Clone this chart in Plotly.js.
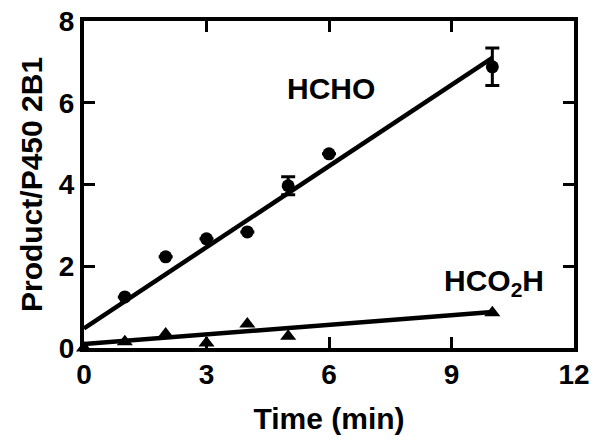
<!DOCTYPE html>
<html>
<head>
<meta charset="utf-8">
<script src="https://cdn.plot.ly/plotly-3.0.1.min.js"></script>
<style>
  html, body { margin: 0; padding: 0; background: #fff; }
  #chart { width: 601px; height: 448px; }
</style>
</head>
<body>
<div id="chart"></div>
<script>
// time points (min)
var hchoTime = [1, 2, 3, 4, 5, 6, 10];
var hchoValues = [1.25, 2.23, 2.67, 2.84, 3.97, 4.75, 6.88];
var hchoErrors = [0, 0, 0, 0, 0.22, 0, 0.46];

var formicTime = [0, 1, 2, 3, 4, 5, 10];
var formicValues = [0, 0.15, 0.34, 0.12, 0.59, 0.29, 0.86];

// linear fits
var fitTime = [0, 10];
var hchoFit = [0.48, 7.1];
var formicFit = [0.1, 0.88];

var xTicks = [0, 3, 6, 9, 12];
var yTicks = [0, 2, 4, 6, 8];

var fontFamily = '"Liberation Sans", Arial, sans-serif';

var hchoFitTrace = {
  x: fitTime,
  y: hchoFit,
  mode: 'lines',
  type: 'scatter',
  line: {color: '#000', width: 4.5},
  cliponaxis: false,
  hoverinfo: 'skip'
};

var formicFitTrace = {
  x: fitTime,
  y: formicFit,
  mode: 'lines',
  type: 'scatter',
  line: {color: '#000', width: 4.5},
  cliponaxis: false,
  hoverinfo: 'skip'
};

var hchoTrace = {
  x: hchoTime,
  y: hchoValues,
  mode: 'markers',
  type: 'scatter',
  name: 'HCHO',
  marker: {symbol: 'circle', size: 13, color: '#000'},
  error_y: {type: 'data', array: hchoErrors, visible: true, color: '#000', thickness: 3, width: 7},
  cliponaxis: false
};

var formicTrace = {
  x: formicTime,
  y: formicValues,
  mode: 'markers',
  type: 'scatter',
  name: 'HCO2H',
  marker: {symbol: 'triangle-up', size: 14, color: '#000'},
  cliponaxis: false
};

var axisStyle = {
  showline: true,
  linecolor: '#000',
  linewidth: 4,
  mirror: 'ticks',
  ticks: 'inside',
  ticklen: 11,
  tickwidth: 3,
  tickcolor: '#000',
  showgrid: false,
  zeroline: false,
  tickfont: {family: fontFamily, size: 28, color: '#000'}
};

function boldLabels(vals) {
  return vals.map(function(v) { return '<b>' + v + '</b>'; });
}

var layout = {
  width: 601,
  height: 448,
  margin: {l: 84, r: 27, t: 21, b: 100},
  paper_bgcolor: '#fff',
  plot_bgcolor: '#fff',
  showlegend: false,
  font: {family: fontFamily, color: '#000'},
  xaxis: Object.assign({}, axisStyle, {
    range: [0, 12],
    tickvals: xTicks,
    ticktext: boldLabels(xTicks),
    ticklabelstandoff: -2,
    title: {text: '<b>Time (min)</b>', font: {family: fontFamily, size: 30, color: '#000'}, standoff: 20}
  }),
  yaxis: Object.assign({}, axisStyle, {
    range: [0, 8],
    tickvals: yTicks,
    ticktext: boldLabels(yTicks),
    ticklabelstandoff: 0,
    title: {text: '<b>Product/P450 2B1</b>', font: {family: fontFamily, size: 30, color: '#000'}, standoff: 8}
  }),
  annotations: [
    {
      x: 6.05, y: 6.36, xref: 'x', yref: 'y',
      text: '<b>HCHO</b>', showarrow: false,
      font: {family: fontFamily, size: 30, color: '#000'}
    },
    {
      x: 10.04, y: 1.6, xref: 'x', yref: 'y',
      text: '<b>HCO<sub>2</sub>H</b>', showarrow: false,
      font: {family: fontFamily, size: 30, color: '#000'}
    }
  ]
};

Plotly.newPlot('chart', [hchoFitTrace, formicFitTrace, hchoTrace, formicTrace], layout, {staticPlot: true});
</script>
</body>
</html>
